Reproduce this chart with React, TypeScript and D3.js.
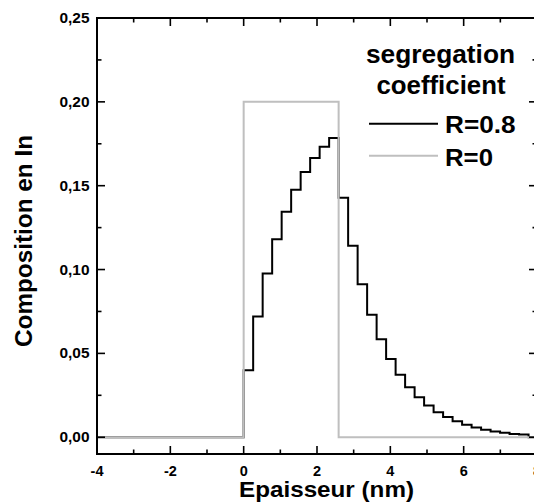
import React from "react";
import * as d3 from "d3";

const W = 534;
const H = 504;

// step edges (nm) for the R=0.8 profile
const stepEdges = [
  0, 0.259, 0.518, 0.777, 1.036, 1.295, 1.554, 1.813, 2.072, 2.331, 2.59,
  2.849, 3.108, 3.367, 3.626, 3.885, 4.144, 4.403, 4.662, 4.921, 5.18,
  5.439, 5.698, 5.957, 6.216, 6.475, 6.734, 6.993, 7.252, 7.511, 7.77,
];
// composition of each step (R = 0.8)
const stepValues = [
  0.04, 0.072, 0.0976, 0.1181, 0.1345, 0.1476, 0.1581, 0.1665, 0.1732, 0.1785,
  0.1428, 0.1142, 0.0912, 0.0731, 0.0584, 0.0466, 0.0372, 0.0298, 0.0238, 0.0189,
  0.0149, 0.0121, 0.0096, 0.0075, 0.0058, 0.0044, 0.0034, 0.0026, 0.002, 0.0016,
];
// R = 0 profile: [x, y] corner points
const rectX = [-4, 0, 0, 2.59, 2.59, 8];
const rectY = [0, 0, 0.2, 0.2, 0, 0];

const xDomain = [-4, 8];
const yDomain = [-0.01, 0.25];
const xMajor = [-4, -2, 0, 2, 4, 6, 8];
const xMinor = [-3, -1, 1, 3, 5, 7];
const yMajor = [0, 0.05, 0.1, 0.15, 0.2, 0.25];
const yMinor = [0.025, 0.075, 0.125, 0.175, 0.225];
const yLabels = ["0,00", "0,05", "0,10", "0,15", "0,20", "0,25"];

const legendTitle = ["segregation", "coefficient"];
const seriesNames = ["R=0.8", "R=0"];
const seriesColors = ["#000000", "#bfbfbf"];

const FONT = "'Liberation Sans', Arial, Helvetica, sans-serif";

export default function App() {
  const x = d3.scaleLinear().domain(xDomain).range([97, 537]);
  const y = d3.scaleLinear().domain(yDomain).range([454, 18]);

  // build step polyline points for R=0.8
  const pts: [number, number][] = [[-4, 0], [0, 0]];
  stepValues.forEach((v, i) => {
    pts.push([stepEdges[i], v]);
    pts.push([stepEdges[i + 1], v]);
  });
  pts.push([stepEdges[stepEdges.length - 1], 0]);
  pts.push([8, 0]);

  const line = d3
    .line<[number, number]>()
    .x((d) => x(d[0]))
    .y((d) => y(d[1]));

  const rectPts: [number, number][] = rectX.map((v, i) => [v, rectY[i]]);

  const left = x(xDomain[0]);
  const right = x(xDomain[1]);
  const top = y(yDomain[1]);
  const bottom = y(yDomain[0]);

  return (
    <svg
      width={W}
      height={H}
      style={{ position: "absolute", left: 0, top: 0, background: "#fff" }}
      fontFamily={FONT}
      fontWeight="bold"
    >
      <defs>
        <clipPath id="plot">
          <rect x={left} y={top} width={right - left} height={bottom - top} />
        </clipPath>
      </defs>
      <g clipPath="url(#plot)" fill="none" strokeLinejoin="miter">
        <path d={line(pts) || ""} stroke={seriesColors[0]} strokeWidth={2} />
        <path d={line(rectPts) || ""} stroke={seriesColors[1]} strokeWidth={2} />
      </g>

      {/* frame */}
      <rect
        x={left}
        y={top}
        width={right - left}
        height={bottom - top}
        fill="none"
        stroke="#000"
        strokeWidth={2}
      />

      {/* x ticks bottom & top */}
      {xMajor.map((t) => (
        <g key={"xM" + t}>
          <line x1={x(t)} x2={x(t)} y1={bottom} y2={bottom - 8} stroke="#000" strokeWidth={1.6} />
          <line x1={x(t)} x2={x(t)} y1={top} y2={top + 8} stroke="#000" strokeWidth={1.6} />
          <text x={x(t)} y={475.5} textAnchor="middle" fontSize={14.5}>
            {String(t)}
          </text>
        </g>
      ))}
      {xMinor.map((t) => (
        <g key={"xm" + t}>
          <line x1={x(t)} x2={x(t)} y1={bottom} y2={bottom - 4.5} stroke="#000" strokeWidth={1.6} />
          <line x1={x(t)} x2={x(t)} y1={top} y2={top + 4.5} stroke="#000" strokeWidth={1.6} />
        </g>
      ))}

      {/* y ticks left & right */}
      {yMajor.map((t, i) => (
        <g key={"yM" + t}>
          <line x1={left} x2={left + 8} y1={y(t)} y2={y(t)} stroke="#000" strokeWidth={1.6} />
          <line x1={right} x2={right - 8} y1={y(t)} y2={y(t)} stroke="#000" strokeWidth={1.6} />
          <text x={89.5} y={y(t) + 5} textAnchor="end" fontSize={14} textLength={30} lengthAdjust="spacingAndGlyphs">
            {yLabels[i]}
          </text>
        </g>
      ))}
      {yMinor.map((t) => (
        <g key={"ym" + t}>
          <line x1={left} x2={left + 4.5} y1={y(t)} y2={y(t)} stroke="#000" strokeWidth={1.6} />
          <line x1={right} x2={right - 4.5} y1={y(t)} y2={y(t)} stroke="#000" strokeWidth={1.6} />
        </g>
      ))}

      {/* axis titles */}
      <text
        x={326.5}
        y={497}
        textAnchor="middle"
        fontSize={22}
        textLength={175}
        lengthAdjust="spacingAndGlyphs"
      >
        Epaisseur (nm)
      </text>
      <text
        transform={`translate(32,241) rotate(-90)`}
        textAnchor="middle"
        fontSize={23}
        textLength={212}
        lengthAdjust="spacingAndGlyphs"
      >
        Composition en In
      </text>

      {/* legend */}
      <text x={440.5} y={63} textAnchor="middle" fontSize={25} textLength={149} lengthAdjust="spacingAndGlyphs">
        {legendTitle[0]}
      </text>
      <text x={441} y={94} textAnchor="middle" fontSize={25} textLength={129} lengthAdjust="spacingAndGlyphs">
        {legendTitle[1]}
      </text>
      {seriesNames.map((name, i) => (
        <g key={name}>
          <line
            x1={369}
            x2={438}
            y1={123.7 + i * 32}
            y2={123.7 + i * 32}
            stroke={seriesColors[i]}
            strokeWidth={2}
          />
          <text
            x={445}
            y={132.5 + i * 33}
            fontSize={24.5}
            textLength={i === 0 ? 70.5 : 48}
            lengthAdjust="spacingAndGlyphs"
          >
            {name}
          </text>
        </g>
      ))}
    </svg>
  );
}
